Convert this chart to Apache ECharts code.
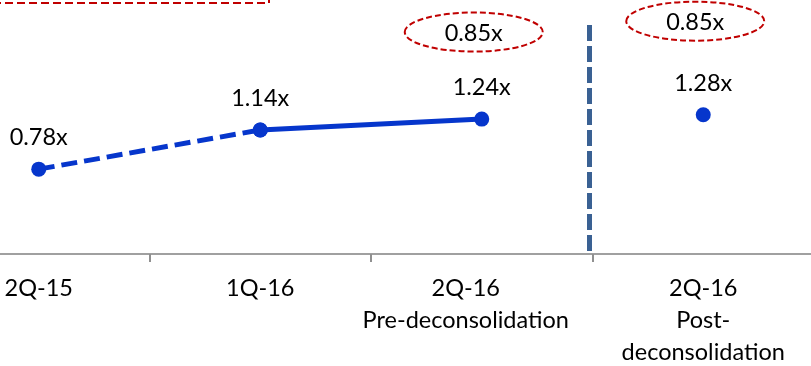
<!DOCTYPE html>
<html>
<head>
<meta charset="utf-8">
<script src="https://cdn.jsdelivr.net/npm/echarts@6/dist/echarts.min.js"></script>
<style>
  html, body { margin: 0; padding: 0; background: #fff; }
  #chart { width: 811px; height: 366px; }
</style>
</head>
<body>
<div id="chart"></div>
<script>
// Quarterly leverage multiples
const categories = ['2Q-15', '1Q-16', '2Q-16\nPre-deconsolidation', '2Q-16\nPost-\ndeconsolidation'];
const leverageTrend = [0.78, 1.14, null, null];      // dashed segment
const leverageRecent = [null, 1.14, 1.24, null];     // solid segment
const leveragePost = [null, null, null, 1.28];       // stand-alone point
const calloutCategories = [2, 3];
const calloutTexts = ['0.85x', '0.85x'];

const BLUE = '#0636cc';
const RED = '#c00000';
const FONT = 'Lato';
const FS = 23.5;

const chart = echarts.init(document.getElementById('chart'), null, { renderer: 'canvas' });

const valueLabel = {
  show: true,
  position: 'top',
  distance: 12,
  fontFamily: FONT,
  fontSize: FS,
  color: '#000',
  opacity: 1,
  formatter: p => p.value.toFixed(2) + 'x'
};

// only the first point of the dashed segment carries a label; 1.14 is labelled by the solid one
const trendData = leverageTrend.map((v, i) =>
  v == null ? null : { value: v, label: { show: i === 0 } });

const calloutY = [2.04, 2.14];

chart.setOption({
  animation: false,
  grid: { left: -72, right: -3, top: -18, bottom: 112, containLabel: false, outerBoundsMode: 'none' },
  xAxis: {
    type: 'category',
    data: categories,
    boundaryGap: true,
    axisLine: { show: true, lineStyle: { color: '#a0a0a0', width: 2 } },
    axisTick: { show: true, length: 8, lineStyle: { color: '#909090', width: 2 } },
    axisLabel: {
      interval: 0,
      margin: 18,
      fontFamily: FONT,
      fontSize: FS,
      lineHeight: 32,
      color: '#000',
      formatter: (v, i) => i === 2
        ? v.split('\n').map(s => '{pre|' + s + '}').join('\n')
        : v,
      rich: {
        pre: { fontFamily: FONT, fontSize: FS, lineHeight: 32, color: '#000', padding: [0, 32, 0, 0] }
      }
    },
    splitLine: { show: false }
  },
  yAxis: { type: 'value', min: 0, max: 2.5, show: false, splitLine: { show: false } },
  series: [
    {
      type: 'line',
      data: trendData,
      symbol: 'circle',
      symbolSize: 15,
      itemStyle: { color: BLUE, opacity: 1 },
      lineStyle: { color: BLUE, width: 5, type: [16, 7] },
      label: valueLabel,
      z: 3
    },
    {
      type: 'line',
      data: leverageRecent,
      symbol: 'circle',
      symbolSize: 15,
      itemStyle: { color: BLUE, opacity: 1 },
      lineStyle: { color: BLUE, width: 5 },
      label: valueLabel,
      z: 4
    },
    {
      type: 'scatter',
      data: leveragePost,
      symbol: 'circle',
      symbolSize: 15,
      itemStyle: { color: BLUE, opacity: 1 },
      label: valueLabel,
      z: 4
    },
    {
      // dashed red call-out ellipses
      type: 'custom',
      data: calloutCategories.map((c, i) => [c, calloutY[i], calloutTexts[i]]),
      renderItem: (params, api) => {
        const p = api.coord([api.value(0), api.value(1)]);
        const cx = p[0] - 8, cy = p[1];
        return {
          type: 'group',
          children: [
            {
              type: 'ellipse',
              shape: { cx: cx, cy: cy, rx: 69, ry: 19.5 },
              style: { fill: 'transparent', stroke: RED, lineWidth: 2, lineDash: [6, 3] }
            },
            {
              type: 'text',
              x: cx, y: cy + 1,
              style: {
                text: calloutTexts[params.dataIndex],
                fontFamily: FONT, fontSize: FS, fill: '#000',
                align: 'center', verticalAlign: 'middle'
              }
            }
          ]
        };
      },
      z: 5
    }
  ]
});

// separator between pre- and post-deconsolidation, plus the dashed box at the top left
const left = chart.convertToPixel({ xAxisIndex: 0 }, 2);
const right = chart.convertToPixel({ xAxisIndex: 0 }, 3);
const axisY = chart.convertToPixel({ yAxisIndex: 0 }, 0);
const sepX = (left + right) / 2 - 3;

chart.setOption({
  graphic: [
    {
      type: 'line',
      shape: { x1: sepX, y1: 25, x2: sepX, y2: axisY },
      style: { stroke: '#3a6193', lineWidth: 5, lineDash: [16, 5] },
      z: 10
    },
    {
      type: 'rect',
      shape: { x: -20, y: -40, width: 289, height: 43 },
      style: { fill: 'transparent', stroke: RED, lineWidth: 2, lineDash: [8, 4] },
      z: 10
    }
  ]
});
</script>
</body>
</html>
